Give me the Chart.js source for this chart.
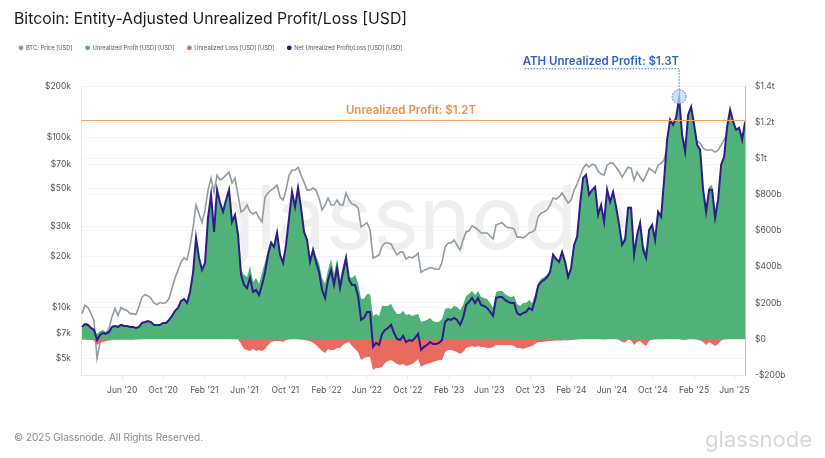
<!DOCTYPE html>
<html>
<head>
<meta charset="utf-8">
<title>Bitcoin: Entity-Adjusted Unrealized Profit/Loss [USD]</title>
<script src="https://cdn.jsdelivr.net/npm/chart.js@4/dist/chart.umd.min.js"></script>
<style>
  html, body { margin: 0; padding: 0; background: #fff; }
  canvas { display: block; }
</style>
</head>
<body>
<canvas id="chartPnl" width="825" height="458"></canvas>
<script>
// sampling of the x axis, one reading about every 9 days
const firstDay = Date.UTC(2020, 1, 2);
const stepDays = 8.952;

// BTC price, USD
const price = [
  9200,10300,10000,9200,8360,5030,6180,6800,7080,7520,8830,9870,8950,10000,9730,9600,9200,9200,9080,10150,
  11500,11900,11700,11300,10600,10400,10700,10600,10700,11300,13000,14900,16600,18500,19600,19050,23000,29500,40200,35600,
  31600,37600,49200,57900,47900,60300,56400,57900,60300,62800,54100,57900,46000,36600,37600,40200,36600,35600,36600,33700,
  32000,44800,47300,49200,50600,52700,44800,43000,49200,60300,64400,64400,67100,60300,54800,49200,49200,50600,49200,44200,
  37600,40200,44200,40200,40200,43000,40200,40200,47300,43000,40800,40200,38600,29900,30700,31600,28700,19600,19900,20400,
  23000,24000,24000,23700,21800,20400,21200,21200,19300,19900,19600,20100,20900,16100,16600,16800,17200,17000,16800,16800,
  18500,22700,24000,24000,25000,23300,21800,25000,27900,28300,30300,29500,28700,27500,27500,27500,26400,25300,30700,31200,
  31600,30300,29500,29500,29100,26000,26000,25700,26400,27500,27900,28700,34200,36100,36600,37600,40200,44200,43600,44800,
  47300,44200,41300,43000,49200,53400,59500,66200,69900,67100,69900,69000,63600,61100,60300,69000,70900,70900,67100,63600,
  58700,62800,67100,66200,56400,62800,58700,55600,60300,66200,64400,62000,69000,70900,74000,87000,96900,96900,99600,102300,
  96900,94300,102300,105100,99600,95600,93000,87000,84700,84700,84700,82400,84700,90600,96900,106500,114000,107900,105100,106500,
  105100,107900
];

// unrealized profit, billions USD
const profit = [
  72,88,84,67,58,27,44,50,39,47,73,77,72,83,77,76,71,71,64,70,
  91,96,101,95,79,79,79,90,90,107,129,157,173,212,223,201,262,368,562,451,
  384,423,673,801,595,829,757,707,773,829,651,690,579,384,356,344,406,317,339,305,
  367,428,500,550,522,600,478,439,528,675,819,735,841,732,600,558,439,516,461,422,
  339,306,384,444,361,444,333,405,472,345,339,356,311,223,223,250,250,128,139,128,
  184,183,183,195,161,139,138,156,133,138,128,134,139,95,100,106,116,100,94,95,
  111,166,172,167,184,178,161,189,239,250,267,244,267,233,227,222,200,172,261,266,
  266,250,239,233,239,194,183,200,200,216,200,245,311,334,343,356,383,477,453,436,
  492,435,353,400,526,570,751,895,912,801,829,845,691,746,653,829,762,818,735,639,
  539,570,732,736,500,595,655,522,489,616,637,553,707,679,884,1107,1218,1190,1229,1340,
  1138,1045,1245,1290,1191,1083,1058,845,739,845,856,711,800,975,1014,1179,1273,1207,1162,1173,
  1107,1207
];

// unrealized loss, billions USD
const loss = [
  -5,-5,-6,-6,-8,-33,-22,-17,-11,-8,-6,-5,-5,-5,-5,-4,-4,-4,-3,-3,
  -2,-2,-1,-1,-1,-1,-1,-1,-1,-1,-1,-1,-1,-1,-1,-1,-1,-1,-1,-1,
  -1,-1,-1,-1,-1,-1,-1,-1,-1,-1,-1,-1,-1,-28,-56,-61,-67,-56,-67,-61,
  -67,-56,-33,-17,-11,-11,-11,-17,-6,-3,-2,-2,-2,-4,-6,-8,-11,-22,-33,-50,
  -67,-78,-56,-61,-61,-50,-50,-33,-22,-17,-39,-56,-72,-117,-106,-100,-100,-172,-161,-161,
  -156,-133,-122,-117,-128,-139,-144,-139,-150,-144,-139,-128,-111,-156,-144,-139,-133,-128,-122,-117,
  -117,-72,-61,-61,-67,-72,-83,-72,-50,-44,-39,-44,-39,-44,-44,-50,-50,-44,-33,-33,
  -33,-33,-33,-33,-39,-50,-50,-56,-50,-44,-39,-28,-17,-17,-15,-12,-11,-10,-9,-8,
  -9,-7,-9,-6,-4,-3,-1,-1,-1,-1,-1,-1,-2,-2,-3,-1,-1,-1,-2,-6,
  -17,-20,-4,-8,-33,-17,-11,-28,-39,-10,-4,-3,-1,-1,-1,-1,-1,-1,-1,-1,
  -5,-6,-1,-1,-2,-5,-8,-17,-33,-17,-28,-39,-28,-8,-3,-1,-1,-1,-1,-1,
  -1,-1
];

// net unrealized profit/loss, billions USD
const net = [
  67,83,78,61,50,-6,22,33,28,39,67,72,67,78,72,72,67,67,61,67,
  89,94,100,94,78,78,78,89,89,106,128,156,172,211,222,200,261,367,561,450,
  383,422,672,800,594,828,756,706,772,828,650,689,578,356,300,283,339,261,272,244,
  300,372,467,533,511,589,467,422,522,672,817,733,839,728,594,550,428,494,428,372,
  272,228,328,383,300,394,283,372,450,328,300,300,239,106,117,150,150,-44,-22,-33,
  28,50,61,78,33,0,-6,17,-17,-6,-11,6,28,-61,-44,-33,-17,-28,-28,-22,
  -6,94,111,106,117,106,78,117,189,206,228,200,228,189,183,172,150,128,228,233,
  233,217,206,200,200,144,133,144,150,172,161,217,294,317,328,344,372,467,444,428,
  483,428,344,394,522,567,750,894,911,800,828,844,689,744,650,828,761,817,733,633,
  522,550,728,728,467,578,644,494,450,606,633,550,706,678,883,1106,1217,1189,1228,1339,
  1133,1039,1244,1289,1189,1078,1050,828,706,828,828,672,772,967,1011,1178,1272,1206,1161,1172,
  1106,1206
];

const days = price.map((_, i) => firstDay + i * stepDays * 86400000);

const priceTicks = [5000, 7000, 10000, 20000, 30000, 50000, 70000, 100000, 200000];
const priceTickLabels = ["$5k", "$7k", "$10k", "$20k", "$30k", "$50k", "$70k", "$100k", "$200k"];
const pnlTicks = [-200, 0, 200, 400, 600, 800, 1000, 1200, 1400];
const pnlTickLabels = ["-$200b", "$0", "$200b", "$400b", "$600b", "$800b", "$1t", "$1.2t", "$1.4t"];
const dateTicks = ["2020-06-01","2020-10-01","2021-02-01","2021-06-01","2021-10-01","2022-02-01","2022-06-01","2022-10-01",
  "2023-02-01","2023-06-01","2023-10-01","2024-02-01","2024-06-01","2024-10-01","2025-02-01","2025-06-01"];
const dateTickLabels = ["Jun '20","Oct '20","Feb '21","Jun '21","Oct '21","Feb '22","Jun '22","Oct '22",
  "Feb '23","Jun '23","Oct '23","Feb '24","Jun '24","Oct '24","Feb '25","Jun '25"];

const profitLevel = 1210;
const athIndex = 199;

const inter = "Inter, 'Liberation Sans', sans-serif";

function points(values) {
  return values.map((v, i) => ({ x: days[i], y: v }));
}

const extras = {
  id: "extras",
  afterLayout(chart) {
    // legend sits right under the title and starts a bit left of it
    chart.legend.left -= 8;
    chart.legend.top -= 26;
  },
  beforeDatasetsDraw(chart) {
    const { ctx, chartArea: a } = chart;
    ctx.save();
    ctx.fillStyle = "#efefef";
    ctx.font = "400 88px " + inter;
    ctx.textAlign = "center";
    ctx.textBaseline = "alphabetic";
    ctx.fillText("glassnode", (a.left + a.right) / 2 + 2, 249);
    ctx.restore();
  },
  afterDatasetsDraw(chart) {
    const { ctx, chartArea: a, scales } = chart;
    const levelY = Math.floor(scales.y1.getPixelForValue(profitLevel)) + 0.5;
    ctx.save();

    ctx.strokeStyle = "#eda36b";
    ctx.lineWidth = 1;
    ctx.beginPath();
    ctx.moveTo(a.left, levelY);
    ctx.lineTo(a.right, levelY);
    ctx.stroke();

    ctx.fillStyle = "#e8944f";
    ctx.font = "600 11.5px " + inter;
    ctx.textAlign = "center";
    ctx.textBaseline = "middle";
    ctx.fillText("Unrealized Profit: $1.2T", a.left + 330, levelY - 10);

    // ATH callout
    const cx = scales.x.getPixelForValue(days[athIndex]);
    const cy = scales.y1.getPixelForValue(net[athIndex]);
    const lineY = a.top - 18;
    ctx.beginPath();
    ctx.arc(cx, cy - 1, 7, 0, Math.PI * 2);
    ctx.fillStyle = "rgba(190, 212, 245, 0.75)";
    ctx.fill();
    ctx.strokeStyle = "#3f6fd0";
    ctx.lineWidth = 1;
    ctx.setLineDash([1.5, 1.5]);
    ctx.stroke();
    ctx.beginPath();
    ctx.moveTo(cx, cy - 8);
    ctx.lineTo(cx, lineY);
    ctx.lineTo(cx - 156, lineY);
    ctx.stroke();
    ctx.setLineDash([]);

    ctx.fillStyle = "#2f62c6";
    ctx.font = "600 11.5px " + inter;
    ctx.textAlign = "right";
    ctx.fillText("ATH Unrealized Profit: $1.3T", cx, lineY - 7);

    ctx.fillStyle = "#8a8a8a";
    ctx.font = "10px " + inter;
    ctx.textAlign = "left";
    ctx.fillText("© 2025 Glassnode. All Rights Reserved.", 14, 438);

    ctx.fillStyle = "#d8d8d8";
    ctx.font = "400 22px " + inter;
    ctx.textAlign = "right";
    ctx.fillText("glassnode", 812, 440);
    ctx.restore();
  },
};

new Chart(document.getElementById("chartPnl"), {
  data: {
    datasets: [
      {
        type: "line", label: "BTC: Price [USD]", data: points(price), yAxisID: "y", order: 4,
        borderColor: "#929ca2", backgroundColor: "#929ca2", borderWidth: 1.6, pointRadius: 0,
      },
      {
        type: "line", label: "Unrealized Profit [USD] [USD]", data: points(profit), yAxisID: "y1", order: 3,
        borderColor: "#50b278", backgroundColor: "#50b278", borderWidth: 0, pointRadius: 0, fill: "origin",
      },
      {
        type: "line", label: "Unrealized Loss [USD] [USD]", data: points(loss), yAxisID: "y1", order: 2,
        borderColor: "#e96b60", backgroundColor: "#e96b60", borderWidth: 0, pointRadius: 0, fill: "origin",
      },
      {
        type: "line", label: "Net Unrealized Profit/Loss [USD] [USD]", data: points(net), yAxisID: "y1", order: 1,
        borderColor: "#2f1b8c", backgroundColor: "#2f1b8c", borderWidth: 2, pointRadius: 0,
      },
    ],
  },
  plugins: [extras],
  options: {
    responsive: false,
    animation: false,
    layout: { padding: { left: 14, top: 0, right: 0, bottom: 0 } },
    plugins: {
      tooltip: { enabled: false },
      title: {
        display: true,
        text: "Bitcoin: Entity-Adjusted Unrealized Profit/Loss [USD]",
        align: "start",
        color: "#1c1c1c",
        font: { family: inter, size: 15.8, weight: "400" },
        padding: { top: 10, bottom: 29 },
      },
      legend: {
        display: true,
        position: "top",
        align: "start",
        labels: {
          color: "#555",
          font: { family: inter, size: 5.8 },
          usePointStyle: true,
          pointStyle: "circle",
          boxWidth: 4,
          boxHeight: 3.5,
          padding: 13,
          sort: (a, b) => a.datasetIndex - b.datasetIndex,
          generateLabels(chart) {
            return Chart.defaults.plugins.legend.labels.generateLabels(chart)
              .map((item) => ({ ...item, lineWidth: 0 }));
          },
        },
      },
    },
    scales: {
      x: {
        type: "linear",
        min: Date.UTC(2020, 0, 30),
        max: Date.UTC(2025, 6, 3),
        afterFit(scale) { scale.height = 83; },
        afterBuildTicks(scale) {
          scale.ticks = dateTicks.map((d) => ({ value: Date.parse(d) }));
        },
        grid: { drawOnChartArea: false, color: "#e9ecef", tickLength: 5 },
        border: { color: "#e9ecef" },
        ticks: {
          color: "#555",
          font: { family: inter, size: 8.5 },
          maxRotation: 0,
          autoSkip: false,
          padding: 5,
          callback(value) {
            return dateTickLabels[dateTicks.findIndex((d) => Date.parse(d) === value)];
          },
        },
      },
      y: {
        type: "logarithmic",
        position: "left",
        min: 4000,
        max: 200000,
        afterFit(scale) { scale.width = 67; },
        afterBuildTicks(scale) {
          scale.ticks = priceTicks.map((v) => ({ value: v }));
        },
        grid: { color: "#f3f4f5", tickLength: 0 },
        border: { color: "#e9ecef" },
        ticks: {
          color: "#555",
          font: { family: inter, size: 8.5 },
          padding: 10,
          autoSkip: false,
          callback(value) { return priceTickLabels[priceTicks.indexOf(value)]; },
        },
      },
      y1: {
        type: "linear",
        position: "right",
        min: -200,
        max: 1400,
        afterFit(scale) { scale.width = 80; },
        afterBuildTicks(scale) {
          scale.ticks = pnlTicks.map((v) => ({ value: v }));
        },
        grid: { color: "#f3f4f5", tickLength: 0 },
        border: { color: "#f0b18a" },
        ticks: {
          color: "#555",
          font: { family: inter, size: 8.5 },
          padding: 10,
          autoSkip: false,
          callback(value) { return pnlTickLabels[pnlTicks.indexOf(value)]; },
        },
      },
    },
  },
});
</script>
</body>
</html>
